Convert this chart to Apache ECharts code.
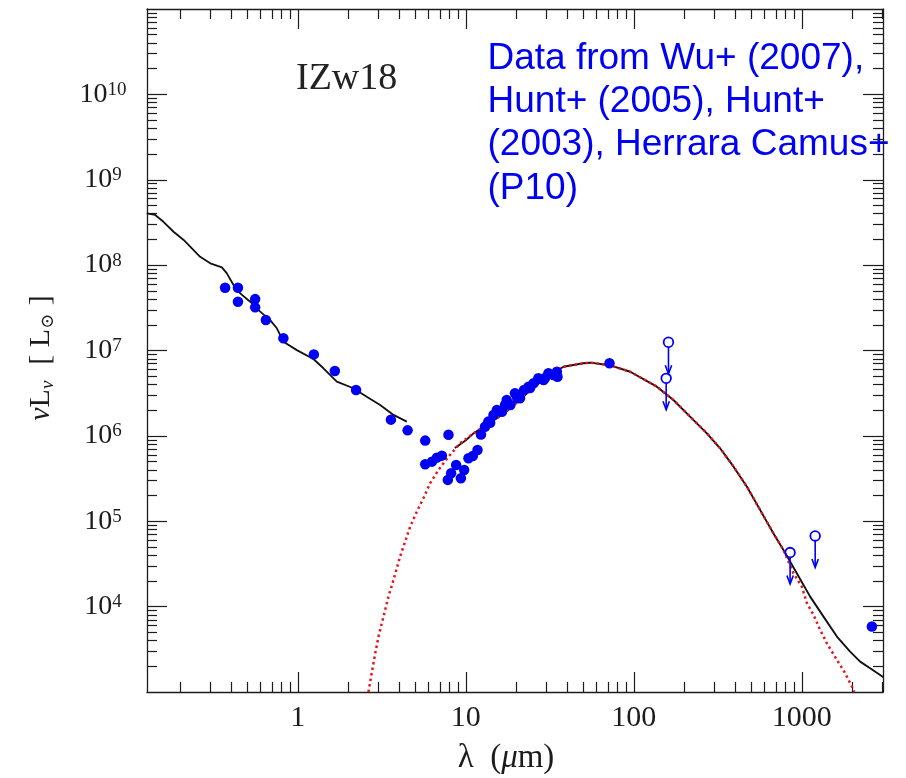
<!DOCTYPE html>
<html>
<head>
<meta charset="utf-8">
<script src="https://cdn.jsdelivr.net/npm/echarts@6/dist/echarts.min.js"></script>
<style>
  html, body { margin: 0; padding: 0; background: #ffffff; }
  #chart { width: 906px; height: 778px; }
</style>
</head>
<body>
<div id="chart"></div>
<script>
// Spectral energy distribution of I Zw 18.
// Wavelengths in micron, luminosities (nu L_nu) in solar units.

// Stellar part of the model (black, UV to near-IR)
const starsLam = [0.126, 0.1415, 0.1585, 0.182, 0.209, 0.234, 0.262, 0.301, 0.353, 0.378, 0.414, 0.454,
  0.52, 0.597, 0.684, 0.75, 0.821, 0.986, 1.238, 1.42, 1.706, 2.14, 2.57, 3.09, 3.71, 4.45];
const starsLum = [4.04e8, 3.87e8, 3.22e8, 2.46e8, 1.97e8, 1.57e8, 1.25e8, 1.05e8, 9.42e7, 8.01e7, 5.85e7, 4.67e7,
  3.73e7, 2.85e7, 2.27e7, 1.82e7, 1.27e7, 1.01e7, 7.95e6, 6.19e6, 4.32e6, 3.61e6, 2.88e6, 2.30e6, 1.76e6, 1.47e6];

// Total model, mid-IR to millimetre (black)
const totalLam = [8.6, 10.0, 11.1, 15.3, 18.4, 23.1, 30.3, 38.1, 50.1, 55.1, 71.6, 95.1, 137, 172, 216, 272,
  326, 392, 471, 564, 675, 777, 933, 1120, 1345, 1616, 1937, 2222, 2548, 3060];
const totalLum = [7.2e5, 8.9e5, 1.07e6, 1.61e6, 2.10e6, 3.16e6, 4.93e6, 6.46e6, 7.08e6, 7.20e6, 6.73e6, 5.64e6,
  3.77e6, 2.63e6, 1.68e6, 1.07e6, 7.16e5, 4.36e5, 2.54e5, 1.36e5, 7.3e4, 4.61e4, 2.46e4, 1.31e4, 7.64e3,
  4.46e3, 2.97e3, 2.27e3, 1.90e3, 1.49e3];

// Dust component (red dotted)
const dustLam = [2.63, 2.76, 2.89, 3.02, 3.16, 3.31, 3.46, 3.71, 3.88, 4.06, 4.35, 4.66, 5.11, 5.59, 6.13, 6.87,
  7.88, 9.25, 11.1, 15.3, 18.4, 23.1, 30.3, 38.1, 50.1, 55.1, 71.6, 95.1, 137, 172, 216, 272, 326, 392, 471,
  564, 675, 777, 891, 1000, 1071, 1173, 1285, 1408, 1616, 1810, 1985, 2050];
const dustLum = [1.0e3, 1.73e3, 2.85e3, 4.45e3, 6.39e3, 9.15e3, 1.31e4, 2.05e4, 2.82e4, 3.85e4, 5.77e4, 8.65e4,
  1.30e5, 1.86e5, 2.79e5, 3.99e5, 5.71e5, 8.19e5, 1.07e6, 1.61e6, 2.10e6, 3.16e6, 4.93e6, 6.46e6, 7.08e6,
  7.20e6, 6.73e6, 5.64e6, 3.77e6, 2.63e6, 1.68e6, 1.07e6, 7.16e5, 4.36e5, 2.54e5, 1.36e5, 7.3e4, 4.61e4,
  2.46e4, 1.71e4, 1.10e4, 8.0e3, 5.33e3, 3.72e3, 2.38e3, 1.66e3, 1.16e3, 1.0e3];

// Photometry and IRS spectrum (filled blue points)
const photLam = [0.369, 0.44, 0.44, 0.557, 0.557, 0.645, 0.82, 1.245, 1.66, 2.22, 3.58, 4.5, 5.73, 7.88,
  5.73, 6.28, 6.72, 7.2, 7.81, 8.17, 8.75, 9.34, 9.77, 10.36, 11.0, 11.73,
  12.3, 13.0, 13.6, 13.96, 14.6, 15.3, 16.4, 17.1, 17.5, 18.4, 19.6, 20.2, 21.0, 22.2, 23.6, 24.1,
  25.3, 27.0, 29.0, 29.6, 31.0, 33.2, 34.8, 35.1,
  71.6, 2612];
const photLum = [5.43e7, 5.43e7, 3.72e7, 4.0e7, 3.2e7, 2.28e7, 1.39e7, 9.0e6, 5.76e6, 3.45e6, 1.55e6, 1.16e6, 8.8e5, 1.03e6,
  4.65e5, 4.99e5, 5.56e5, 5.87e5, 3.05e5, 3.65e5, 4.56e5, 3.19e5, 3.99e5, 5.47e5, 5.82e5, 6.84e5,
  1.04e6, 1.28e6, 1.47e6, 1.42e6, 1.76e6, 2.01e6, 1.92e6, 2.3e6, 2.63e6, 2.30e6, 3.16e6, 2.78e6, 2.75e6, 3.45e6, 3.77e6, 3.64e6,
  4.13e6, 4.72e6, 4.52e6, 4.76e6, 5.41e6, 5.16e6, 5.65e6, 4.93e6,
  7.08e6, 5.84e3];

// Upper limits (open circles with arrows)
const limLam = [160.7, 155.7, 851, 1200];
const limLum = [1.25e7, 4.72e6, 4.3e4, 6.73e4];

// Axis ranges and ticks
const xRange = [0.1265, 3040];
const yRange = [1e3, 1e11];
const xMajorTicks = [1, 10, 100, 1000];
const yMajorTicks = [1e4, 1e5, 1e6, 1e7, 1e8, 1e9, 1e10];
const minorSteps = [2, 3, 4, 5, 6, 7, 8, 9];
const xDecades = [0.1, 1, 10, 100, 1000];
const yDecades = [1e3, 1e4, 1e5, 1e6, 1e7, 1e8, 1e9, 1e10];

const galaxyName = 'IZw18';
const sourceNote = 'Data from Wu+ (2007),\nHunt+ (2005), Hunt+\n(2003), Herrara Camus+\n(P10)';

const SERIF = '"Liberation Serif", "DejaVu Serif", serif';
const SANS = '"Liberation Sans", Arial, sans-serif';
const INK = '#1c1c1c';
const BLUE = '#0000f2';
const RED = '#e8141c';

const pairs = (xs, ys) => xs.map((x, i) => [x, ys[i]]);
const minorOf = (decades) => {
  const out = [];
  decades.forEach(d => minorSteps.forEach(k => out.push(d * k)));
  return out;
};
const xMinorTicks = minorOf(xDecades).filter(v => v > xRange[0] && v < xRange[1]);
const yMinorTicks = minorOf(yDecades).filter(v => v > yRange[0] && v < yRange[1]);

const tickStyle = { color: INK, width: 1.2 };

function makeAxis(range, position, ticks, len, extra) {
  return Object.assign({
    type: 'log',
    logBase: 10,
    position: position,
    min: range[0],
    max: range[1],
    axisLine: { show: false, onZero: false },
    axisTick: { show: true, inside: true, length: len, customValues: ticks, lineStyle: tickStyle },
    axisLabel: { show: false },
    splitLine: { show: false },
    minorTick: { show: false },
    silent: true
  }, extra || {});
}

const frameLine = { show: true, onZero: false, lineStyle: { color: INK, width: 1.3 } };

const xAxes = [
  makeAxis(xRange, 'bottom', xMajorTicks, 20, {
    axisLine: frameLine,
    axisLabel: {
      show: true,
      customValues: xMajorTicks,
      margin: 11,
      fontFamily: SERIF,
      fontSize: 30,
      color: INK,
      formatter: v => String(Math.round(v))
    },
    name: '{n|λ  (}{i|μ}{n|m)}',
    nameLocation: 'middle',
    nameGap: 50,
    nameTextStyle: {
      fontFamily: SERIF,
      fontSize: 33,
      color: INK,
      padding: [0, 18, 0, 0],
      rich: {
        n: { fontFamily: SERIF, fontSize: 33, color: INK },
        i: { fontFamily: SERIF, fontSize: 33, fontStyle: 'italic', color: INK }
      }
    }
  }),
  makeAxis(xRange, 'bottom', xMinorTicks, 10),
  makeAxis(xRange, 'top', xMajorTicks, 20, { axisLine: frameLine }),
  makeAxis(xRange, 'top', xMinorTicks, 10)
];

const yAxes = [
  makeAxis(yRange, 'left', yMajorTicks, 20, {
    axisLine: frameLine,
    axisLabel: {
      show: true,
      customValues: yMajorTicks,
      margin: 44,
      align: 'center',
      formatter: v => '{b|10}{s|' + Math.round(Math.log10(v)) + '}',
      rich: {
        b: { fontFamily: SERIF, fontSize: 28, color: INK, lineHeight: 28 },
        s: { fontFamily: SERIF, fontSize: 19, color: INK, verticalAlign: 'top', lineHeight: 19 }
      }
    },
    name: '{i|ν}{n|L}{s|ν}{n|  [ L}{o|⊙}{n| ]}',
    nameLocation: 'middle',
    nameRotate: 90,
    nameGap: 90,
    nameTextStyle: {
      fontFamily: SERIF,
      fontSize: 30,
      color: INK,
      padding: [0, 15, 0, 0],
      rich: {
        n: { fontFamily: SERIF, fontSize: 30, color: INK },
        i: { fontFamily: SERIF, fontSize: 30, fontStyle: 'italic', color: INK },
        s: { fontFamily: SERIF, fontSize: 19, fontStyle: 'italic', color: INK, verticalAlign: 'bottom', padding: [12, 1, 0, 0] },
        o: { fontFamily: SERIF, fontSize: 18, color: INK, verticalAlign: 'bottom', padding: [12, 1, 0, 0] }
      }
    }
  }),
  makeAxis(yRange, 'left', yMinorTicks, 10),
  makeAxis(yRange, 'right', yMajorTicks, 20, { axisLine: frameLine }),
  makeAxis(yRange, 'right', yMinorTicks, 10)
];

const option = {
  backgroundColor: '#ffffff',
  animation: false,
  grid: { left: 147, right: 23, top: 9, bottom: 86, containLabel: false, outerBoundsMode: 'none' },
  xAxis: xAxes,
  yAxis: yAxes,
  graphic: [
    {
      type: 'text', left: 296, top: 60, silent: true,
      style: { text: galaxyName, font: '38px ' + SERIF, fill: '#222222' }
    },
    {
      type: 'text', x: 487.5, y: 37, silent: true,
      style: {
        text: sourceNote, fontFamily: SANS, fontSize: 37, lineHeight: 43.3,
        fill: BLUE, verticalAlign: 'top', align: 'left'
      }
    }
  ],
  series: [
    {
      name: 'stars', type: 'line', xAxisIndex: 0, yAxisIndex: 0,
      data: pairs(starsLam, starsLum), showSymbol: false, symbol: 'none', clip: true,
      lineStyle: { color: '#111111', width: 1.8 }, z: 2
    },
    {
      name: 'total', type: 'line', xAxisIndex: 0, yAxisIndex: 0,
      data: pairs(totalLam, totalLum), showSymbol: false, symbol: 'none', clip: true,
      lineStyle: { color: '#111111', width: 1.9 }, z: 2
    },
    {
      name: 'dust', type: 'line', xAxisIndex: 0, yAxisIndex: 0,
      data: pairs(dustLam, dustLum), showSymbol: false, symbol: 'none', clip: true,
      lineStyle: { color: RED, width: 2.5, type: [2.4, 3.2] }, z: 3
    },
    {
      name: 'photometry', type: 'scatter', xAxisIndex: 0, yAxisIndex: 0,
      data: pairs(photLam, photLum), symbol: 'circle', symbolSize: 10.5,
      itemStyle: { color: BLUE, opacity: 1 }, z: 4
    },
    {
      name: 'limits', type: 'custom', xAxisIndex: 0, yAxisIndex: 0,
      data: pairs(limLam, limLum), z: 4,
      renderItem: (params, api) => {
        const p = api.coord([api.value(0), api.value(1)]);
        const cx = p[0], cy = p[1];
        return {
          type: 'group',
          children: [
            { type: 'circle', shape: { cx: cx, cy: cy, r: 4.8 },
              style: { fill: 'none', stroke: BLUE, lineWidth: 1.8 } },
            { type: 'line', shape: { x1: cx, y1: cy + 4.8, x2: cx, y2: cy + 31 },
              style: { stroke: BLUE, lineWidth: 1.6 } },
            { type: 'polyline', shape: { points: [[cx - 3.2, cy + 23], [cx, cy + 31.5], [cx + 3.2, cy + 23]] },
              style: { fill: 'none', stroke: BLUE, lineWidth: 1.6 } }
          ]
        };
      }
    }
  ]
};

const chart = echarts.init(document.getElementById('chart'), null, { renderer: 'canvas' });
chart.setOption(option);
</script>
</body>
</html>
